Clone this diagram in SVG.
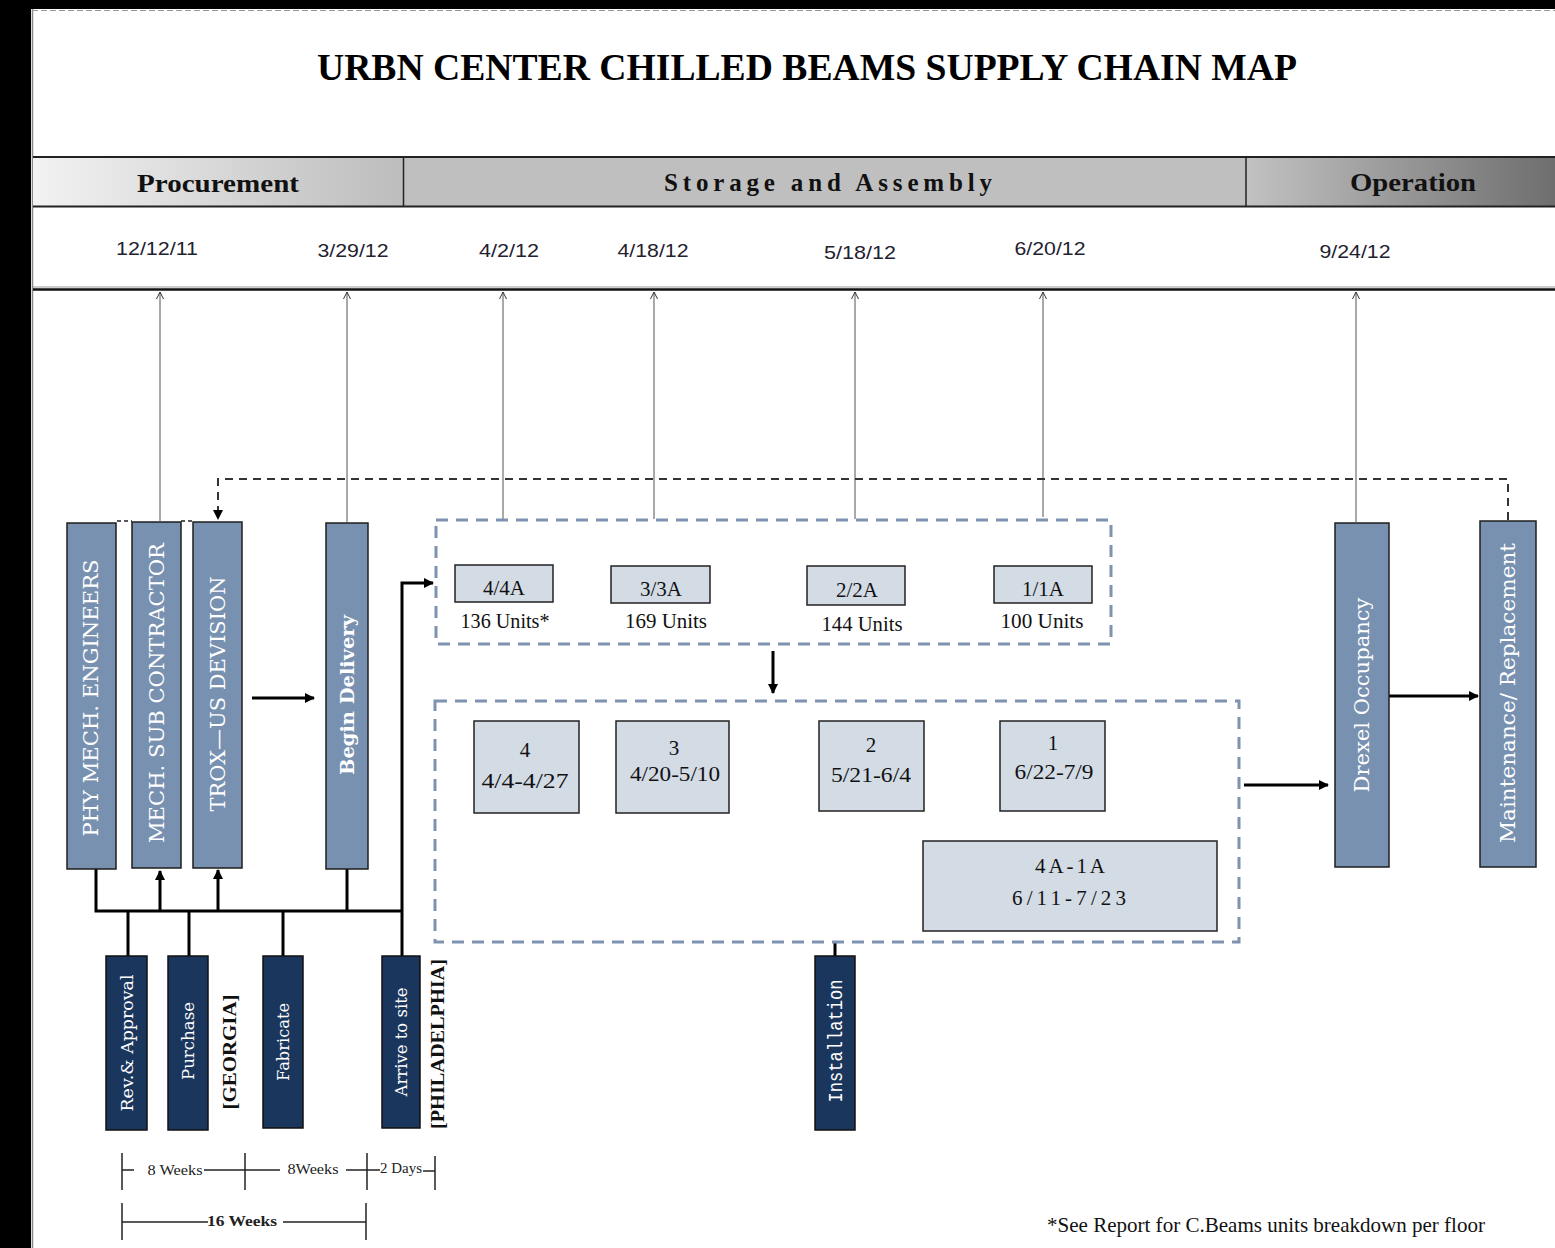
<svg xmlns="http://www.w3.org/2000/svg" width="1555" height="1248" viewBox="0 0 1555 1248">
<defs>
<linearGradient id="gProc" x1="0" y1="0" x2="1" y2="0"><stop offset="0" stop-color="#f2f2f2"/><stop offset="1" stop-color="#bdbdbd"/></linearGradient>
<linearGradient id="gOp" x1="0" y1="0" x2="1" y2="0"><stop offset="0" stop-color="#c2c2c2"/><stop offset="1" stop-color="#6e6e6e"/></linearGradient>
<marker id="ah" markerWidth="10" markerHeight="10" refX="9" refY="5" orient="auto" markerUnits="userSpaceOnUse"><path d="M0,0 L10,5 L0,10 z" fill="#000"/></marker>
<marker id="ahs" markerWidth="8" markerHeight="8" refX="7" refY="4" orient="auto" markerUnits="userSpaceOnUse"><path d="M0,0.5 L7,4 L0,7.5" fill="none" stroke="#333" stroke-width="1"/></marker>
<style>
.nodeA{fill:#7891b0;stroke:#1e1e1e;stroke-width:1.5}
.nodeB{fill:#1b365d;stroke:#111;stroke-width:1.5}
.nodeC{fill:#d3dbe5;stroke:#222;stroke-width:1.5}
.dbox{fill:none;stroke:#7f93b1;stroke-width:3;stroke-dasharray:12 8}
.wt{fill:#fff;font-family:"DejaVu Serif","Liberation Serif",serif;text-anchor:middle}
.date{fill:#1f2230;font-family:"Liberation Sans","Open Sans",sans-serif;font-size:19px;text-anchor:middle}
.sec{fill:#111;font-family:"Liberation Serif",serif;font-weight:bold;font-size:25px;text-anchor:middle}
.bt{fill:#111;font-family:"Liberation Serif",serif;font-size:21px;text-anchor:middle}
.thin{stroke:#555;stroke-width:1;fill:none}
.thick{stroke:#000;stroke-width:3;fill:none}
.wk{fill:#222;font-family:"Liberation Serif",serif;font-size:15px;text-anchor:middle}
.tick{stroke:#222;stroke-width:1.5;fill:none}
</style>
</defs>
<rect x="0" y="0" width="1555" height="1248" fill="#fff"/>
<rect x="0" y="0" width="31" height="1248" fill="#000"/>
<rect x="0" y="0" width="1555" height="9" fill="#000"/>
<line x1="32.5" y1="9" x2="32.5" y2="1248" stroke="#888" stroke-width="1.5"/>
<line x1="32" y1="10.5" x2="1555" y2="10.5" stroke="#999" stroke-width="1" stroke-dasharray="6 3"/>

<text x="807" y="80" font-family="Liberation Serif,serif" font-weight="bold" font-size="38" text-anchor="middle" textLength="980" lengthAdjust="spacingAndGlyphs" fill="#000">URBN CENTER CHILLED BEAMS SUPPLY CHAIN MAP</text>

<g id="header">
<rect x="33" y="157" width="370" height="49" fill="url(#gProc)"/>
<rect x="403" y="157" width="843" height="49" fill="#bfbfbf"/>
<rect x="1246" y="157" width="309" height="49" fill="url(#gOp)"/>
<line x1="33" y1="157" x2="1555" y2="157" stroke="#222" stroke-width="2"/>
<line x1="33" y1="206.5" x2="1555" y2="206.5" stroke="#222" stroke-width="2"/>
<line x1="403.5" y1="157" x2="403.5" y2="206" stroke="#222" stroke-width="1.5"/>
<line x1="1246" y1="157" x2="1246" y2="206" stroke="#222" stroke-width="1.5"/>
<text class="sec" x="218" y="192" textLength="162" lengthAdjust="spacingAndGlyphs">Procurement</text>
<text class="sec" x="828" y="191" textLength="328" lengthAdjust="spacing">Storage and Assembly</text>
<text class="sec" x="1413" y="191" textLength="126" lengthAdjust="spacingAndGlyphs">Operation</text>
</g>

<g id="dates">
<text class="date" x="157" y="255" textLength="82" lengthAdjust="spacingAndGlyphs">12/12/11</text>
<text class="date" x="353" y="257" textLength="71" lengthAdjust="spacingAndGlyphs">3/29/12</text>
<text class="date" x="509" y="257" textLength="60" lengthAdjust="spacingAndGlyphs">4/2/12</text>
<text class="date" x="653" y="257" textLength="71" lengthAdjust="spacingAndGlyphs">4/18/12</text>
<text class="date" x="860" y="259" textLength="72" lengthAdjust="spacingAndGlyphs">5/18/12</text>
<text class="date" x="1050" y="255" textLength="71" lengthAdjust="spacingAndGlyphs">6/20/12</text>
<text class="date" x="1355" y="258" textLength="71" lengthAdjust="spacingAndGlyphs">9/24/12</text>
</g>
<line x1="33" y1="287" x2="1555" y2="287" stroke="#999" stroke-width="1"/>
<line x1="33" y1="289.5" x2="1555" y2="289.5" stroke="#111" stroke-width="2.5"/>

<g id="connectors">
<!-- timeline pointers -->
<line class="thin" x1="160" y1="521" x2="160" y2="292" marker-end="url(#ahs)"/>
<line class="thin" x1="347" y1="522" x2="347" y2="292" marker-end="url(#ahs)"/>
<line class="thin" x1="503" y1="519" x2="503" y2="292" marker-end="url(#ahs)"/>
<line class="thin" x1="654" y1="519" x2="654" y2="292" marker-end="url(#ahs)"/>
<line class="thin" x1="855" y1="519" x2="855" y2="292" marker-end="url(#ahs)"/>
<line class="thin" x1="1043" y1="517" x2="1043" y2="292" marker-end="url(#ahs)"/>
<line class="thin" x1="1356" y1="522" x2="1356" y2="292" marker-end="url(#ahs)"/>
<!-- feedback dashed -->
<path d="M1508,520 L1508,479 L218,479 L218,519" fill="none" stroke="#333" stroke-width="2" stroke-dasharray="8 6" marker-end="url(#ah)"/>
<line x1="117" y1="521" x2="132" y2="521" stroke="#222" stroke-width="1.5" stroke-dasharray="4 3"/>
<line x1="181" y1="521" x2="193" y2="521" stroke="#222" stroke-width="1.5" stroke-dasharray="4 3"/>
<!-- TROX to Begin Delivery -->
<line class="thick" x1="252" y1="698" x2="314" y2="698" marker-end="url(#ah)"/>
<!-- bus -->
<path class="thick" d="M96,869 L96,911 L402,911"/>
<line class="thick" x1="160" y1="911" x2="160" y2="871" marker-end="url(#ah)"/>
<line class="thick" x1="218" y1="911" x2="218" y2="870" marker-end="url(#ah)"/>
<line class="thick" x1="347" y1="869" x2="347" y2="911"/>
<line class="thick" x1="128" y1="911" x2="128" y2="956"/>
<line class="thick" x1="189" y1="911" x2="189" y2="956"/>
<line class="thick" x1="283" y1="911" x2="283" y2="956"/>
<path class="thick" d="M402,956 L402,583 L433,583" marker-end="url(#ah)"/>
<!-- storage to assembly -->
<line class="thick" x1="773" y1="651" x2="773" y2="693" marker-end="url(#ah)"/>
<!-- assembly to installation -->
<line class="thick" x1="835" y1="943" x2="835" y2="956"/>
<!-- assembly to Drexel -->
<line class="thick" x1="1244" y1="785" x2="1328" y2="785" marker-end="url(#ah)"/>
<!-- Drexel to Maintenance -->
<line class="thick" x1="1389" y1="696" x2="1478" y2="696" marker-end="url(#ah)"/>
</g>

<g id="n-phy"><rect class="nodeA" x="67" y="523" width="49" height="346"/>
<text class="wt" transform="translate(91,698) rotate(-90)" dy="7" font-size="20" textLength="277" lengthAdjust="spacingAndGlyphs">PHY MECH. ENGINEERS</text></g>
<g id="n-mech"><rect class="nodeA" x="132" y="522" width="49" height="346"/>
<text class="wt" transform="translate(157,693) rotate(-90)" dy="7" font-size="20" textLength="300" lengthAdjust="spacingAndGlyphs">MECH. SUB CONTRACTOR</text></g>
<g id="n-trox"><rect class="nodeA" x="193" y="522" width="49" height="346"/>
<text class="wt" transform="translate(218,694) rotate(-90)" dy="7" font-size="20" textLength="235" lengthAdjust="spacingAndGlyphs">TROX—US DEVISION</text></g>
<g id="n-begin"><rect class="nodeA" x="326" y="523" width="42" height="346"/>
<text class="wt" transform="translate(347,695) rotate(-90)" dy="7" font-size="19" font-weight="bold" textLength="160" lengthAdjust="spacingAndGlyphs">Begin Delivery</text></g>

<g id="n-rev"><rect class="nodeB" x="106" y="956" width="41" height="174"/>
<text class="wt" transform="translate(127,1043) rotate(-90)" dy="6" font-size="16" textLength="137" lengthAdjust="spacingAndGlyphs">Rev.&amp; Approval</text></g>
<g id="n-purchase"><rect class="nodeB" x="168" y="956" width="40" height="174"/>
<text class="wt" transform="translate(188,1041) rotate(-90)" dy="6" font-size="16" textLength="78" lengthAdjust="spacingAndGlyphs">Purchase</text></g>
<g id="n-fab"><rect class="nodeB" x="263" y="956" width="40" height="172"/>
<text class="wt" transform="translate(283,1042) rotate(-90)" dy="6" font-size="16" textLength="78" lengthAdjust="spacingAndGlyphs">Fabricate</text></g>
<g id="n-arrive"><rect class="nodeB" x="382" y="956" width="38" height="172"/>
<text class="wt" transform="translate(401,1042) rotate(-90)" dy="6" font-size="16" textLength="109" lengthAdjust="spacingAndGlyphs">Arrive to site</text></g>
<g id="n-install"><rect class="nodeB" x="815" y="956" width="40" height="174"/>
<text transform="translate(835,1041) rotate(-90)" dy="7" fill="#fff" font-family="Liberation Mono,monospace" font-size="20" text-anchor="middle" textLength="123" lengthAdjust="spacingAndGlyphs">Installation</text></g>

<g id="lbl-georgia"><text transform="translate(229,1052) rotate(-90)" dy="7" fill="#111" font-family="Liberation Serif,serif" font-weight="bold" font-size="19" text-anchor="middle" textLength="115" lengthAdjust="spacingAndGlyphs">[GEORGIA]</text></g>
<g id="lbl-phila"><text transform="translate(437,1044) rotate(-90)" dy="7" fill="#111" font-family="Liberation Serif,serif" font-weight="bold" font-size="19" text-anchor="middle" textLength="170" lengthAdjust="spacingAndGlyphs">[PHILADELPHIA]</text></g>

<g id="storage">
<rect class="dbox" x="436" y="520" width="675" height="124"/>
<g id="s4"><rect class="nodeC" x="455" y="565" width="98" height="37"/><text class="bt" x="504" y="595">4/4A</text><text class="bt" x="505" y="628" textLength="89" lengthAdjust="spacingAndGlyphs">136 Units*</text></g>
<g id="s3"><rect class="nodeC" x="611" y="566" width="99" height="37"/><text class="bt" x="661" y="596">3/3A</text><text class="bt" x="666" y="628" textLength="82" lengthAdjust="spacingAndGlyphs">169 Units</text></g>
<g id="s2"><rect class="nodeC" x="807" y="566" width="98" height="39"/><text class="bt" x="857" y="597">2/2A</text><text class="bt" x="862" y="631" textLength="81" lengthAdjust="spacingAndGlyphs">144 Units</text></g>
<g id="s1"><rect class="nodeC" x="994" y="566" width="98" height="37"/><text class="bt" x="1043" y="596">1/1A</text><text class="bt" x="1042" y="628" textLength="83" lengthAdjust="spacingAndGlyphs">100 Units</text></g>
</g>

<g id="assembly">
<rect class="dbox" x="435" y="701" width="804" height="241"/>
<g id="a4"><rect class="nodeC" x="474" y="721" width="105" height="92"/><text class="bt" x="525" y="757" font-size="19">4</text><text class="bt" x="525" y="788" font-size="20" textLength="87" lengthAdjust="spacingAndGlyphs">4/4-4/27</text></g>
<g id="a3"><rect class="nodeC" x="616" y="721" width="113" height="92"/><text class="bt" x="674" y="755" font-size="19">3</text><text class="bt" x="675" y="781" font-size="20" textLength="90" lengthAdjust="spacingAndGlyphs">4/20-5/10</text></g>
<g id="a2"><rect class="nodeC" x="819" y="721" width="105" height="90"/><text class="bt" x="871" y="752" font-size="17">2</text><text class="bt" x="871" y="782" font-size="20" textLength="80" lengthAdjust="spacingAndGlyphs">5/21-6/4</text></g>
<g id="a1"><rect class="nodeC" x="1000" y="721" width="105" height="90"/><text class="bt" x="1053" y="750" font-size="17">1</text><text class="bt" x="1054" y="779" font-size="20" textLength="79" lengthAdjust="spacingAndGlyphs">6/22-7/9</text></g>
<g id="a4a1a"><rect class="nodeC" x="923" y="841" width="294" height="90"/><text class="bt" x="1070" y="873" font-size="23" textLength="70" lengthAdjust="spacing">4A-1A</text><text class="bt" x="1069" y="905" font-size="23" textLength="114" lengthAdjust="spacing">6/11-7/23</text></g>
</g>

<g id="n-drexel"><rect class="nodeA" x="1335" y="523" width="54" height="344"/>
<text class="wt" transform="translate(1362,695) rotate(-90)" dy="7" font-size="20" textLength="195" lengthAdjust="spacingAndGlyphs">Drexel Occupancy</text></g>
<g id="n-maint"><rect class="nodeA" x="1480" y="521" width="56" height="346"/>
<text class="wt" transform="translate(1508,693) rotate(-90)" dy="7" font-size="20" textLength="300" lengthAdjust="spacingAndGlyphs">Maintenance/ Replacement</text></g>

<g id="durations">
<line class="tick" x1="122" y1="1153" x2="122" y2="1190"/>
<line class="tick" x1="122" y1="1170" x2="134" y2="1170"/>
<text class="wk" x="175" y="1175" textLength="55" lengthAdjust="spacingAndGlyphs">8 Weeks</text>
<line class="tick" x1="204" y1="1170" x2="245" y2="1170"/>
<line class="tick" x1="245" y1="1153" x2="245" y2="1190"/>
<line class="tick" x1="245" y1="1170" x2="280" y2="1170"/>
<text class="wk" x="313" y="1174" textLength="51" lengthAdjust="spacingAndGlyphs">8Weeks</text>
<line class="tick" x1="346" y1="1170" x2="367" y2="1170"/>
<line class="tick" x1="367" y1="1153" x2="367" y2="1190"/>
<line class="tick" x1="367" y1="1170" x2="380" y2="1170"/>
<text class="wk" x="401" y="1173" font-size="14" textLength="42" lengthAdjust="spacingAndGlyphs">2 Days</text>
<line class="tick" x1="423" y1="1171" x2="435" y2="1171"/>
<line class="tick" x1="435" y1="1156" x2="435" y2="1190"/>
<line class="tick" x1="122" y1="1203" x2="122" y2="1240"/>
<line class="tick" x1="122" y1="1222" x2="208" y2="1222"/>
<text class="wk" x="242" y="1226" font-weight="bold" textLength="70" lengthAdjust="spacingAndGlyphs">16 Weeks</text>
<line class="tick" x1="283" y1="1222" x2="366" y2="1222"/>
<line class="tick" x1="366" y1="1203" x2="366" y2="1240"/>
</g>

<text x="1266" y="1232" fill="#111" font-family="Liberation Serif,serif" font-size="22" text-anchor="middle" textLength="438" lengthAdjust="spacingAndGlyphs">*See Report for C.Beams units breakdown per floor</text>
</svg>
